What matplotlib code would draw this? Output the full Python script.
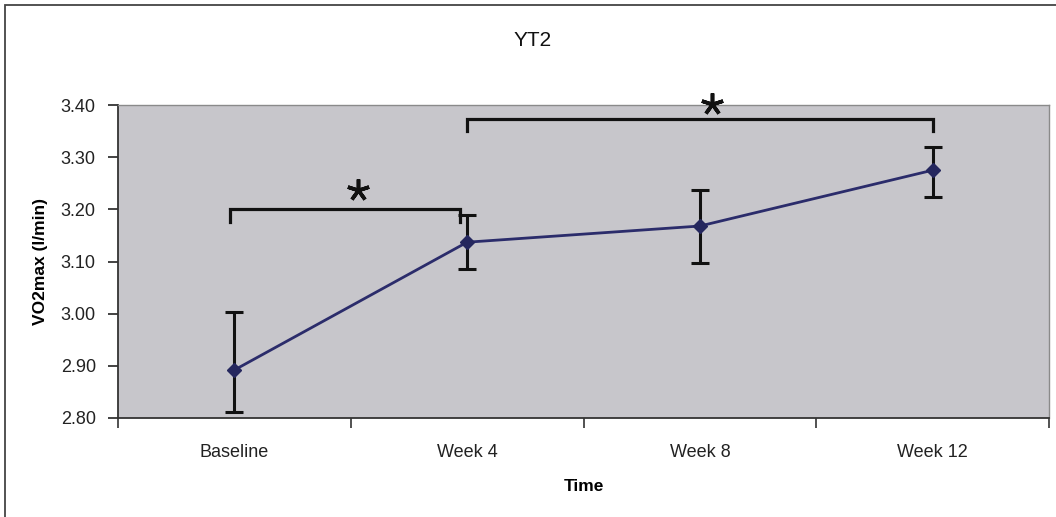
import numpy as np
import matplotlib.pyplot as plt
from matplotlib.patches import Rectangle

plt.rcParams['font.family'] = ['Liberation Sans', 'DejaVu Sans']

categories = ['Baseline', 'Week 4', 'Week 8', 'Week 12']
vo2max = [2.892, 3.137, 3.168, 3.275]
err_upper = [3.004, 3.189, 3.237, 3.320]
err_lower = [2.811, 3.086, 3.097, 3.223]
yticks = [2.80, 2.90, 3.00, 3.10, 3.20, 3.30, 3.40]

# significance brackets: (x start, x end, y level, tick bottom, star x, star y)
brackets = [(-0.02, 0.97, 3.200, 3.176, 0.53, 3.237),
            (1.00, 3.00, 3.373, 3.351, 2.05, 3.402)]

x = np.arange(len(categories))
vals = np.array(vo2max)
yerr = [vals - np.array(err_lower), np.array(err_upper) - vals]

fig = plt.figure(figsize=(10.56, 5.17), dpi=100)
fig.patch.set_facecolor('white')
ax = fig.add_axes([118/1056, 1 - 418/517, (1049-118)/1056, (418-105)/517])
ax.set_facecolor('#c7c6cb')

ax.errorbar(x, vals, yerr=yerr, fmt='none', ecolor='#111111', elinewidth=2.2,
            capsize=6.5, capthick=2.2, zorder=2)
ax.plot(x, vals, color='#2b2c6b', lw=2.0, marker='D', markersize=7,
        markerfacecolor='#25275e', markeredgecolor='#25275e', zorder=3)

for x0, x1, yl, yb, sx, sy in brackets:
    ax.plot([x0, x0, x1, x1], [yb, yl, yl, yb], color='#111111', lw=2.3,
            solid_joinstyle='miter', zorder=2)
    ax.plot([sx], [sy], marker=(5, 2, 0), markersize=16, color='#111111',
            mew=2.6, clip_on=False, zorder=4)

ax.set_xlim(-0.5, len(categories) - 0.5)
ax.set_ylim(2.80, 3.40)
ax.set_yticks(yticks)
ax.set_yticklabels(['%.2f' % t for t in yticks])
ax.set_xticks(np.arange(len(categories) + 1) - 0.5)
ax.set_xticklabels([])
ax.set_xticks(x, minor=True)
ax.set_xticklabels(categories, minor=True)
ax.tick_params(axis='x', which='minor', length=0, pad=19, labelsize=13, colors='#222222')
ax.tick_params(axis='x', which='major', length=7, width=1.2, direction='out', color='#333333')
ax.tick_params(axis='y', length=7, width=1.2, direction='out', pad=9, labelsize=13,
               colors='#222222')

for s in ['left', 'bottom']:
    ax.spines[s].set_color('#333333')
    ax.spines[s].set_linewidth(1.3)
for s in ['top', 'right']:
    ax.spines[s].set_color('#8a8a8a')
    ax.spines[s].set_linewidth(1.0)

ax.set_xlabel('Time', fontsize=12.5, fontweight='bold', labelpad=13)
ax.set_ylabel('VO2max (l/min)', fontsize=12.5, fontweight='bold', labelpad=9)
fig.text(533/1056, 1 - 40/517, 'YT2', fontsize=15, ha='center', va='center', color='#111111')

fig.add_artist(Rectangle((5/1056, -0.1), 1.2, 1.1 - 5/517, transform=fig.transFigure,
                         fill=False, edgecolor='#444444', lw=1.3))

fig.savefig('out.png', dpi=100)
